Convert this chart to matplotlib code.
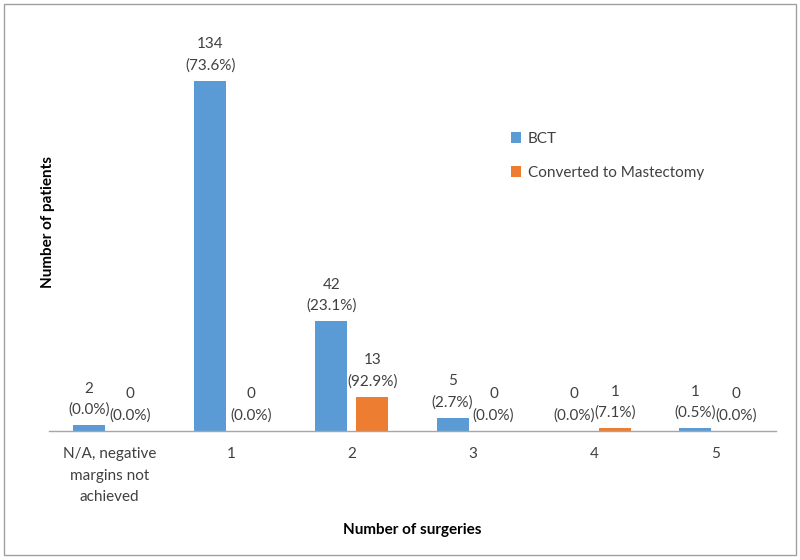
import matplotlib
matplotlib.use("Agg")
import matplotlib.pyplot as plt
import numpy as np
from matplotlib.patches import Rectangle

categories = ["N/A, negative\nmargins not\nachieved", "1", "2", "3", "4", "5"]
bct = [2, 134, 42, 5, 0, 1]
bct_pct = ["0.0%", "73.6%", "23.1%", "2.7%", "0.0%", "0.5%"]
mast = [0, 0, 13, 0, 1, 0]
mast_pct = ["0.0%", "0.0%", "92.9%", "0.0%", "7.1%", "0.0%"]

plt.rcParams['font.family'] = ['Lato', 'DejaVu Sans']

fig = plt.figure(figsize=(8, 5.6), dpi=100)
fig.patches.append(Rectangle((4/800, 5/560), 792/800, 551/560, transform=fig.transFigure,
                             fill=False, edgecolor='#a0a0a0', linewidth=1.0))
ax = fig.add_axes([49/800, 1 - 430.7/560, 727/800, 417.7/560])

x = np.arange(len(categories))
w = 0.264
off = 0.169
blue = '#5B9BD5'
orange = '#ED7D31'
b1 = ax.bar(x - off, bct, w, color=blue, label='BCT')
b2 = ax.bar(x + off, mast, w, color=orange, label='Converted to Mastectomy')

for xi, v, p in zip(x, bct, bct_pct):
    ax.annotate(f"{v}\n({p})", (xi - off, v), xytext=(0, 6), textcoords='offset points',
                ha='center', va='bottom', fontsize=11, color='#404040', linespacing=1.6)
for xi, v, p in zip(x, mast, mast_pct):
    ax.annotate(f"{v}\n({p})", (xi + off, v), xytext=(0, 6), textcoords='offset points',
                ha='center', va='bottom', fontsize=11, color='#404040', linespacing=1.6)

ax.set_xlim(-0.5, len(categories) - 0.5)
ax.set_ylim(0, 160)
ax.set_xticks(x)
ax.set_xticklabels(categories, fontsize=11, color='#404040', linespacing=1.65)
ax.tick_params(axis='x', length=0, pad=12)
ax.set_yticks([])
for s in ['top', 'right', 'left']:
    ax.spines[s].set_visible(False)
ax.spines['bottom'].set_color('#a6a6a6')
ax.spines['bottom'].set_linewidth(1.0)

ax.set_xlabel("Number of surgeries", fontsize=11, fontweight='bold', color='#000000', labelpad=14)
ax.set_ylabel("Number of patients", fontsize=11, fontweight='bold', color='#000000', labelpad=-4)

ax.legend(loc='upper left', bbox_to_anchor=(497/800, 1 - 118/560), bbox_transform=fig.transFigure,
          frameon=False, fontsize=11, handlelength=0.7, handleheight=0.7, handletextpad=0.4,
          labelspacing=1.3, labelcolor='#404040')

fig.savefig("out.png", dpi=100)
